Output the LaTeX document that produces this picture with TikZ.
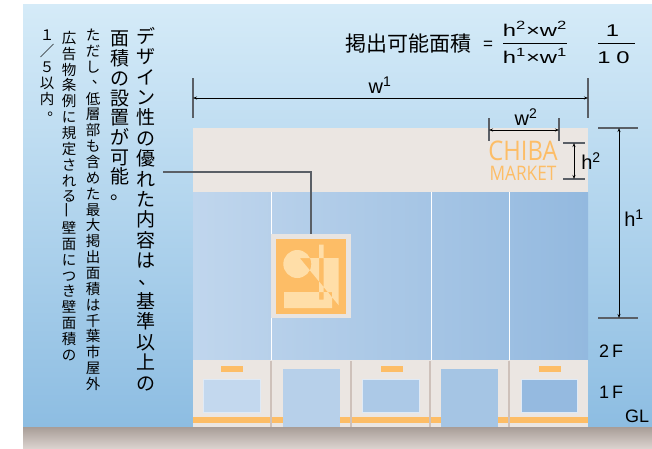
\documentclass[tikz,border=0pt]{standalone}
\usepackage{fontspec}
\usepackage{graphicx}
\setmainfont{Liberation Sans}
\newfontfamily\jp{Noto Sans CJK JP}
\newfontfamily\logofont{Open Sans}
\usetikzlibrary{arrows.meta}

\definecolor{skytop}{HTML}{D5EBF8}
\definecolor{skybot}{HTML}{8DBDE2}
\definecolor{groundtop}{HTML}{A89D97}
\definecolor{groundbot}{HTML}{DAD2CE}
\definecolor{wall}{HTML}{EBE6E2}
\definecolor{glassl}{HTML}{C0D6ED}
\definecolor{glassr}{HTML}{93B9DF}
\definecolor{accent}{HTML}{FDBD66}
\definecolor{accentlight}{HTML}{FFDEA8}
\definecolor{pillar}{HTML}{CEC1BA}
\definecolor{panel}{HTML}{E8E4E1}
\definecolor{leadgray}{HTML}{5A5F66}

% punctuation in a stacked column: #1 = twice the shift right, #2 = lift
\newcommand\tatepunct[3]{\makebox[0pt]{\raisebox{#2}[0pt][0pt]{\hspace*{#1}#3}}}

\tikzset{
  tick/.style={line width=1.1pt, leadgray},
  dimline/.style={line width=0.7pt, black,
    {Stealth[length=4pt,width=3pt]}-{Stealth[length=4pt,width=3pt]}},
  tate/.style={align=center, inner sep=0pt, anchor=north},
  lbl/.style={inner sep=0pt, font=\fontsize{20}{20}\selectfont},
  frac/.style={inner sep=0pt, anchor=base, xscale=1.4, font=\fontsize{17}{17}\selectfont},
  win/.style={line width=0.6pt},
}

\begin{document}
\begin{tikzpicture}[x=1pt, y=-1pt]
        \useasboundingbox (0,0) rectangle (652,448);
        % sky and ground
        \fill [top color=skytop, bottom color=skybot] (23,4) rectangle (652,427);
        \fill [top color=groundtop, bottom color=groundbot] (23,427) rectangle (652,448);

        % building: sign band, glass floor, ground floor
        \fill [wall] (193,128) rectangle (588,192);
        \fill [left color=glassl, right color=glassr] (193,192) rectangle (588,360);
        \draw [white, line width=0.8pt] (271,192) -- (271,360);
        \draw [white, line width=0.8pt] (431,192) -- (431,360);
        \draw [white, line width=0.8pt] (509,192) -- (509,360);
        \fill [wall] (193,360) rectangle (588,427);
        \fill [accent] (193,417) rectangle (588,423);
        \draw [pillar, line width=1.2pt] (271,361) -- (271,427);
        \draw [pillar, line width=1.2pt] (351,361) -- (351,427);
        \draw [pillar, line width=1.2pt] (430,361) -- (430,427);
        \draw [pillar, line width=1.2pt] (509,361) -- (509,427);
        \filldraw [win, fill=glassl!95!white, draw=white!50!glassl] (203,379) rectangle (260,412);
        \filldraw [win, fill=glassl!55!glassr, draw=white!50!glassl] (362,379) rectangle (419,412);
        \filldraw [win, fill=glassr!95!glassl, draw=white!50!glassl] (521,379) rectangle (577,412);
        \fill [accent] (221,366) rectangle (243,372);
        \fill [accent] (381,366) rectangle (403,372);
        \fill [accent] (539,366) rectangle (561,372);
        \fill [glassl!80!glassr] (283,369) rectangle (340,427);
        \fill [glassl!40!glassr] (441,369) rectangle (498,427);

        % wall sign
        \fill [panel] (271,234) rectangle (351,318);
        \fill [accent] (276,239) rectangle (346,314);
        \fill [accentlight, even odd rule] (297.3,264) circle (14)
              (299.7,258) -- (338.7,258) -- (338.7,305.3) -- cycle
              (319,244.7) rectangle (323.7,299.7)
              (284,292) rectangle (332,308);

        % shop name on the band
        \node [inner sep=0pt, text=accent, xscale=0.88, font=\logofont\fontsize{27}{27}\selectfont] (chiba) at (523,151) {CHIBA};
        \node [inner sep=0pt, text=accent, xscale=0.86, font=\logofont\fontsize{20}{20}\selectfont] (market) at (523,173.5) {MARKET};

        % dimensions
        \draw [tick] (193,78) -- (193,118);
        \draw [tick] (588,78) -- (588,118);
        \draw [dimline] (193,98) -- (588,98);
        \node [lbl] (w1) at (380,85) {w\textsuperscript{1}};
        \draw [tick] (489,118) -- (489,141);
        \draw [tick] (559,118) -- (559,141);
        \draw [dimline] (489,130) -- (559,130);
        \node [lbl] (w2) at (526,117) {w\textsuperscript{2}};
        \draw [tick] (563,143) -- (585,143);
        \draw [tick] (563,179) -- (585,179);
        \draw [dimline] (574,143) -- (574,179);
        \node [lbl] (h2) at (591,161) {h\textsuperscript{2}};
        \draw [tick] (598,128) -- (638,128);
        \draw [tick] (598,318) -- (638,318);
        \draw [dimline] (619,128) -- (619,318);
        \node [lbl] (h1) at (634,218) {h\textsuperscript{1}};

        % floors
        \node [lbl, font=\fontsize{18}{18}\selectfont] (f2) at (611,351) {2\hspace{3pt}F};
        \node [lbl, font=\fontsize{18}{18}\selectfont] (f1) at (611,392) {1\hspace{3pt}F};
        \node [lbl, font=\fontsize{18}{18}\selectfont] (gl) at (637,416) {GL};

        % formula
        \node [inner sep=0pt, font=\jp\fontsize{21}{21}\selectfont] (area) at (408.5,44) {掲出可能面積};
        \node [inner sep=0pt, font=\fontsize{17}{17}\selectfont] (eq) at (488,45) {=};
        \node [frac] (num) at (535,36) {h\textsuperscript{2}×w\textsuperscript{2}};
        \node [frac] (den) at (535,63) {h\textsuperscript{1}×w\textsuperscript{1}};
        \draw [line width=0.8pt] (503,43) -- (567,43);
        \node [frac, xscale=1] (one) at (612.5,36) {1};
        \node [frac, xscale=1] (ten) at (613.5,63) {1\hspace{4pt}0};
        \draw [line width=0.8pt] (598,43) -- (635,43);

        % vertical notes
        \node [tate, font=\jp\fontsize{19}{20.4}\selectfont] (note1) at (146,27)
          {デ\\ザ\\イ\\ン\\性\\の\\優\\れ\\た\\内\\容\\は\\\tatepunct{4pt}{4pt}{、}\\基\\準\\以\\上\\の};
        \node [tate, font=\jp\fontsize{19}{19.7}\selectfont] (note2) at (120,31)
          {面\\積\\の\\設\\置\\が\\可\\能\\\tatepunct{0pt}{4pt}{。}};
        \node [tate, font=\jp\fontsize{14.5}{15.85}\selectfont] (note3) at (93,29)
          {た\\だ\\し\\\tatepunct{12pt}{5pt}{、}\\低\\層\\部\\も\\含\\め\\た\\最\\大\\掲\\出\\面\\積\\は\\千\\葉\\市\\屋\\外};
        \node [tate, font=\jp\fontsize{14.5}{15.85}\selectfont] (note4) at (69,31)
          {広\\告\\物\\条\\例\\に\\規\\定\\さ\\れ\\る\\\rotatebox{90}{一}\\壁\\面\\に\\つ\\き\\壁\\面\\積\\の};
        \node [tate, font=\jp\fontsize{14.5}{15.85}\selectfont] (note5) at (47,30)
          {１\\／\\５\\以\\内\\\tatepunct{15pt}{5pt}{。}};

        % leader from the note to the sign
        \coordinate (leadstart) at (163,172);
        \coordinate (signtop) at (311,234);
        \draw [leadgray, line width=1.3pt] (leadstart) -- (signtop |- leadstart) -- (signtop);
\end{tikzpicture}
\end{document}
